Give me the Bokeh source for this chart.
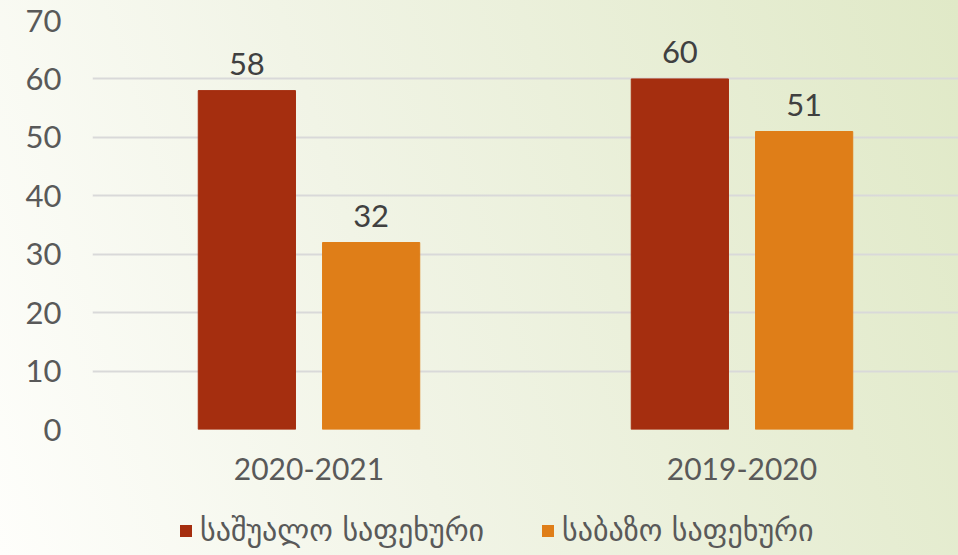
from bokeh.plotting import figure
from bokeh.layouts import column
from bokeh.models import ColumnDataSource, FactorRange, Legend, LegendItem, LabelSet
from bokeh.transform import dodge
from bokeh.core.properties import value
from bokeh.embed import file_html
from bokeh.resources import INLINE

# ---- data ----
categories = ["2020-2021", "2019-2020"]
series_names = ["საშუალო საფეხური", "საბაზო საფეხური"]
secondary = [58, 60]
basic = [32, 51]
y_ticks = [0, 10, 20, 30, 40, 50, 60, 70]

colors = ["#A52E0F", "#DF7E18"]

source = ColumnDataSource(dict(
    cat=categories,
    secondary=secondary,
    basic=basic,
    secondary_lbl=[str(v) for v in secondary],
    basic_lbl=[str(v) for v in basic],
))

p = figure(
    width=958, height=495,
    x_range=FactorRange(*categories, range_padding=0),
    y_range=(0, 70),
    output_backend="svg", toolbar_location=None,
    min_border_left=92, min_border_right=0, min_border_top=20, min_border_bottom=66,
)
p.background_fill_alpha = 0
p.border_fill_alpha = 0
p.outline_line_color = None

bw = 0.2245
off = 0.1435
r1 = p.vbar(x=dodge("cat", -off, range=p.x_range), top="secondary", width=bw,
            source=source, fill_color=colors[0], line_color=colors[0])
r2 = p.vbar(x=dodge("cat", off, range=p.x_range), top="basic", width=bw,
            source=source, fill_color=colors[1], line_color=colors[1])

for col, o in (("secondary", -off), ("basic", off)):
    lab = LabelSet(x=dodge("cat", o, range=p.x_range), y=col, text=col + "_lbl",
                   source=source, text_align="center", text_baseline="bottom",
                   y_offset=16, text_font_size="31px", text_color="#404040",
                   text_font=value("Lato"))
    p.add_layout(lab)

# axes
p.yaxis.ticker = y_ticks
p.yaxis.axis_line_color = None
p.yaxis.major_tick_line_color = None
p.yaxis.minor_tick_line_color = None
p.yaxis.major_label_standoff = 25
p.yaxis.major_label_text_font_size = "31px"
p.yaxis.major_label_text_color = "#595959"
p.yaxis.major_label_text_font = "Lato"

p.xaxis.axis_line_color = None
p.xaxis.major_tick_line_color = None
p.xaxis.minor_tick_line_color = None
p.xaxis.major_label_standoff = 22
p.xaxis.major_label_text_font_size = "30px"
p.xaxis.major_label_text_color = "#595959"
p.xaxis.major_label_text_font = "Lato"

p.xgrid.grid_line_color = None
p.ygrid.grid_line_color = "#D9D9D9"
p.ygrid.grid_line_width = 2

# ---- legend strip (zero-height proxy bars carry the legend swatches) ----
lf = figure(width=958, height=60, output_backend="svg", toolbar_location=None,
            x_range=(0, 1), y_range=(0, 1),
            min_border_left=92, min_border_right=0, min_border_top=0, min_border_bottom=0)
lf.axis.visible = False
lf.grid.visible = False
lf.outline_line_color = None
lf.background_fill_alpha = 0
lf.border_fill_alpha = 0
proxy = ColumnDataSource(dict(x=[0.5], top=[0], bottom=[0]))
g1 = lf.vbar(x="x", top="top", bottom="bottom", width=0.1, source=proxy,
             fill_color=colors[0], line_color=None)
g2 = lf.vbar(x="x", top="top", bottom="bottom", width=0.1, source=proxy,
             fill_color=colors[1], line_color=None)

legend = Legend(
    items=[LegendItem(label=series_names[0], renderers=[g1]),
           LegendItem(label=series_names[1], renderers=[g2])],
    orientation="horizontal", location=(86, 7),
    background_fill_alpha=0, border_line_color=None,
    label_text_font_size="30px", label_text_color="#595959",
    label_text_font="DejaVu Sans",
    glyph_width=15, glyph_height=15, label_standoff=7, spacing=56,
    margin=0, padding=0,
)
lf.add_layout(legend)

layout = column(p, lf, spacing=0)

html = file_html(layout, INLINE)
css = ("<style>html,body{margin:0;padding:0;}"
       "body{background:linear-gradient(72deg,#fefefb 0%,#f1f4e6 40%,#e0e9c7 100%);}</style>")
html = html.replace("</head>", css + "</head>", 1)
open("out.html", "w").write(html)
